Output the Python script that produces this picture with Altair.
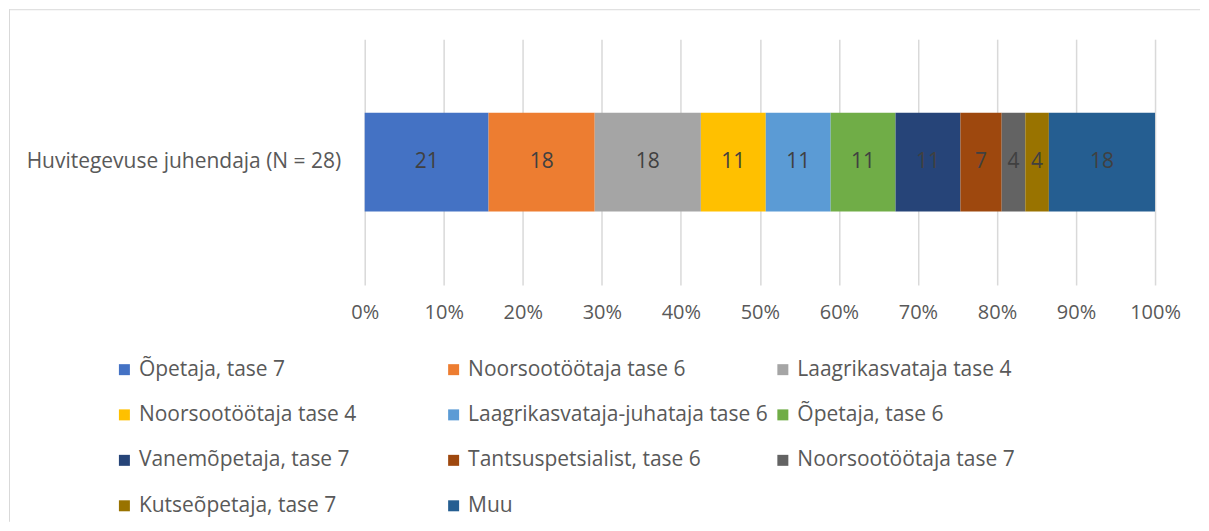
import altair as alt
import pandas as pd

# ---- data ----
group_label = "Huvitegevuse juhendaja (N = 28)"
categories = [
    "Õpetaja, tase 7",
    "Noorsootöötaja tase 6",
    "Laagrikasvataja tase 4",
    "Noorsootöötaja tase 4",
    "Laagrikasvataja-juhataja tase 6",
    "Õpetaja, tase 6",
    "Vanemõpetaja, tase 7",
    "Tantsuspetsialist, tase 6",
    "Noorsootöötaja tase 7",
    "Kutseõpetaja, tase 7",
    "Muu",
]
values = [21, 18, 18, 11, 11, 11, 11, 7, 4, 4, 18]
colors = [
    "#4472C4", "#ED7D31", "#A5A5A5", "#FFC000", "#5B9BD5", "#70AD47",
    "#264478", "#9E480E", "#636363", "#997300", "#255E91",
]
x_ticks = [0.0, 0.1, 0.2, 0.3, 0.4, 0.5, 0.6, 0.7, 0.8, 0.9, 1.0]

FONT = "Open Sans"
TXT = "#595959"

df = pd.DataFrame({
    "group": [group_label] * len(categories),
    "category": categories,
    "value": values,
    "order": list(range(len(categories))),
})

base = (
    alt.Chart(df)
    .transform_window(cum="sum(value)", sort=[alt.SortField("order")], frame=[None, 0])
    .transform_joinaggregate(total="sum(value)")
    .transform_calculate(
        start="(datum.cum - datum.value) / datum.total",
        end="datum.cum / datum.total",
        mid="(datum.cum - datum.value / 2) / datum.total",
    )
)

xscale = alt.Scale(domain=[0, 1], nice=False, zero=False)
yenc = alt.Y(
    "group:N",
    title=None,
    scale=alt.Scale(paddingInner=0, paddingOuter=0.7424),
    axis=alt.Axis(domain=False, ticks=False, labelPadding=24, labelFontSize=21,
                  labelColor=TXT, labelFont=FONT, labelLimit=500),
)

bars = base.mark_bar(strokeWidth=0).encode(
    x=alt.X("start:Q", scale=xscale, title=None,
            axis=alt.Axis(format=".0%", values=x_ticks, grid=True, gridColor="#D9D9D9",
                          gridWidth=1.5, domain=False, ticks=False, labelPadding=18,
                          labelFlush=False,
                          labelFontSize=20, labelColor=TXT, labelFont=FONT)),
    x2="end:Q",
    y=yenc,
    color=alt.Color(
        "category:N",
        scale=alt.Scale(domain=categories, range=colors),
        legend=alt.Legend(
            title=None, orient="none", legendX=-251, legendY=320, columns=3,
            direction="horizontal",
            symbolType="square", symbolSize=121, symbolStrokeWidth=0,
            labelFontSize=21, labelColor=TXT, labelFont=FONT, labelLimit=500,
            labelOffset=4, gridAlign="all", columnPadding=3.5, rowPadding=23.5,
            padding=0,
        ),
    ),
)

labels = base.mark_text(fontSize=21, color="#404040", font=FONT).encode(
    x=alt.X("mid:Q", scale=xscale),
    y=alt.Y("group:N"),
    text=alt.Text("value:Q"),
)

frame_data = pd.DataFrame({"k": [0]})
frame_top = alt.Chart(frame_data).mark_rule(color="#D9D9D9", strokeWidth=1).encode(
    x=alt.value(-356), x2=alt.value(836), y=alt.value(-29.5)
)
frame_left = alt.Chart(frame_data).mark_rule(color="#D9D9D9", strokeWidth=1).encode(
    x=alt.value(-355.5), y=alt.value(-30), y2=alt.value(483)
)

chart = (
    alt.layer(frame_top, frame_left, bars, labels)
    .properties(width=791, height=246, padding=0, background="white")
    .configure_view(stroke=None)
)

chart.save("out.html", embed_options={"renderer": "svg", "actions": False})
